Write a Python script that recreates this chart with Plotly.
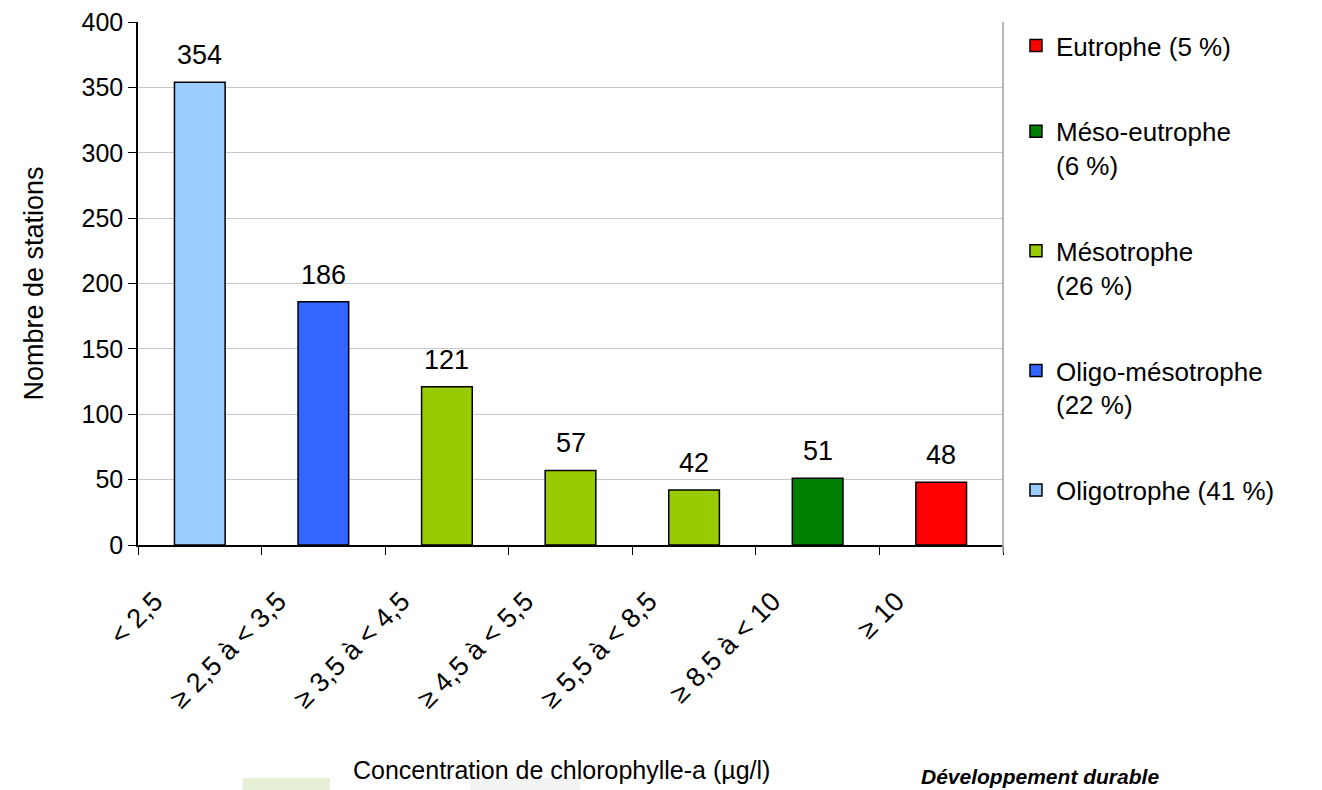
import plotly.graph_objects as go

categories = ["< 2,5", "≥ 2,5 à < 3,5", "≥ 3,5 à < 4,5", "≥ 4,5 à < 5,5",
              "≥ 5,5 à < 8,5", "≥ 8,5 à < 10", "≥ 10"]
values = [354, 186, 121, 57, 42, 51, 48]
classes = ["Oligotrophe", "Oligo-mésotrophe", "Mésotrophe", "Mésotrophe",
           "Mésotrophe", "Méso-eutrophe", "Eutrophe"]

# legend order (top to bottom)
class_order = ["Eutrophe", "Méso-eutrophe", "Mésotrophe", "Oligo-mésotrophe", "Oligotrophe"]
class_labels = ["Eutrophe (5 %)", "Méso-eutrophe<br>(6 %)", "Mésotrophe<br>(26 %)",
                "Oligo-mésotrophe<br>(22 %)", "Oligotrophe (41 %)"]
class_colors = ["#FF0000", "#008000", "#99CC00", "#3366FF", "#99CCFF"]

FONT = "Liberation Sans, Arial, sans-serif"

fig = go.Figure()
for cls, lab, col in zip(class_order, class_labels, class_colors):
    xs = [c for c, k in zip(categories, classes) if k == cls]
    ys = [v for v, k in zip(values, classes) if k == cls]
    fig.add_trace(go.Bar(
        x=xs, y=ys, name=lab, legendgroup=cls,
        marker=dict(color=col, line=dict(color="black", width=1.5)),
        width=0.41,
    ))

for c, v in zip(categories, values):
    fig.add_annotation(x=c, y=v, text=str(v), showarrow=False, yanchor="bottom",
                       yshift=10, font=dict(size=27, color="black", family=FONT))

fig.add_annotation(xref="paper", yref="paper", x=0.49, y=-0.43, yanchor="middle",
                   text="Concentration de chlorophylle-a (µg/l)", showarrow=False,
                   font=dict(size=25, color="black", family=FONT))
fig.add_annotation(xref="paper", yref="paper", x=0.903, y=-0.4685, xanchor="left", yanchor="bottom",
                   text="<b><i>Développement durable</i></b>", showarrow=False,
                   font=dict(size=21, color="black", family=FONT))

# faint background artefacts at the bottom
fig.add_shape(type="rect", xref="paper", yref="paper", x0=0.121, x1=0.222, y0=-0.47, y1=-0.4455,
              fillcolor="#E6F0D6", line=dict(width=0), layer="below")
fig.add_shape(type="rect", xref="paper", yref="paper", x0=0.384, x1=0.511, y0=-0.47, y1=-0.4455,
              fillcolor="#F3F3F3", line=dict(width=0), layer="below")

fig.add_shape(type="line", xref="paper", yref="paper", x0=1, x1=1, y0=-0.015, y1=1,
              line=dict(color="#A0A0A0", width=1.5))

fig.update_layout(
    width=1322, height=790,
    margin=dict(l=138, r=319, t=22, b=245, autoexpand=False),
    paper_bgcolor="white", plot_bgcolor="white",
    barmode="overlay",
    showlegend=True,
    legend=dict(x=1.015, y=1.0, xanchor="left", yanchor="top",
                traceorder="grouped", tracegroupgap=49, valign="top",
                maxheight=760,
                font=dict(size=26, color="black", family=FONT), itemwidth=30),
    font=dict(family=FONT, color="black"),
)
fig.update_xaxes(
    type="category", categoryorder="array", categoryarray=categories,
    tickangle=-45, tickfont=dict(size=27, color="black", family=FONT),
    ticklabelshift=-45, ticklabelstandoff=28,
    showline=True, linecolor="black", linewidth=1.5,
    ticks="outside", tickson="boundaries", ticklen=8, tickcolor="black",
    showgrid=False, automargin=False,
)
fig.update_yaxes(
    range=[0, 400], dtick=50,
    tickfont=dict(size=25, color="black", family=FONT),
    showline=True, linecolor="black", linewidth=1.5,
    ticks="outside", ticklen=8, tickcolor="black",
    showgrid=True, gridcolor="#C8C8C8", gridwidth=1,
    title=dict(text="Nombre de stations", font=dict(size=27, color="black", family=FONT), standoff=30),
    zeroline=False, automargin=False,
)

fig.write_html("out.html", config={"displayModeBar": False},
               post_script="document.body.style.margin='0';document.body.style.overflow='hidden';")
